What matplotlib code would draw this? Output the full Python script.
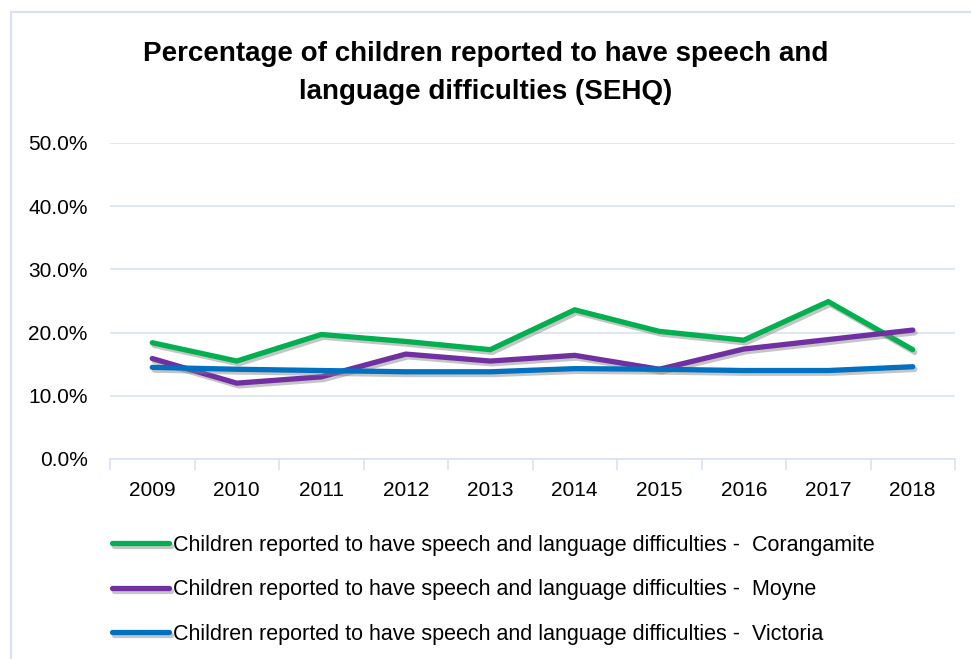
import matplotlib
matplotlib.use("Agg")
import matplotlib.pyplot as plt
import matplotlib.patheffects as pe
from matplotlib.patches import Rectangle
from matplotlib.ticker import FuncFormatter, FixedLocator

years = ["2009", "2010", "2011", "2012", "2013", "2014", "2015", "2016", "2017", "2018"]
corangamite = [18.4, 15.5, 19.7, 18.6, 17.3, 23.6, 20.2, 18.8, 24.9, 17.3]
moyne = [15.9, 12.0, 13.0, 16.6, 15.5, 16.4, 14.2, 17.4, 18.9, 20.4]
victoria = [14.5, 14.2, 14.0, 13.8, 13.8, 14.3, 14.2, 14.0, 14.0, 14.6]

labels = [
    "Children reported to have speech and language difficulties -  Corangamite",
    "Children reported to have speech and language difficulties -  Moyne",
    "Children reported to have speech and language difficulties -  Victoria",
]
colors = ["#00B050", "#7030A0", "#0070C0"]
grid_color = "#D9E1F2"

plt.rcParams["font.family"] = ["Liberation Sans", "DejaVu Sans"]

W, H = 971, 659
fig = plt.figure(figsize=(W / 100, H / 100), dpi=100)
ax = fig.add_axes([110 / W, 1 - 459 / H, 845 / W, 316 / H])

x = list(range(len(years)))
shadow = [pe.SimpleLineShadow(offset=(1.5, -2), shadow_color="gray", alpha=0.45), pe.Normal()]
lines = []
for vals, c, lab in zip([corangamite, moyne, victoria], colors, labels):
    ln, = ax.plot(x, vals, color=c, lw=3.8, solid_capstyle="round",
                  solid_joinstyle="miter", label=lab, path_effects=shadow)
    lines.append(ln)

ax.set_xlim(-0.5, len(years) - 0.5)
ax.set_ylim(0, 50)
ax.set_yticks([0, 10, 20, 30, 40, 50])
ax.yaxis.set_major_formatter(FuncFormatter(lambda v, p: f"{v:.1f}%"))
ax.set_xticks(x)
ax.set_xticklabels(years)
ax.xaxis.set_minor_locator(FixedLocator([i - 0.5 for i in range(len(years) + 1)]))
ax.tick_params(axis="x", which="major", length=0, pad=16, labelsize=15)
ax.tick_params(axis="x", which="minor", length=8, color=grid_color, width=1.2)
ax.tick_params(axis="y", length=0, pad=16, labelsize=15)

ax.grid(axis="y", color=grid_color, lw=1.2)
ax.set_axisbelow(True)
for s in ["top", "right", "left"]:
    ax.spines[s].set_visible(False)
ax.spines["bottom"].set_color(grid_color)
ax.spines["bottom"].set_linewidth(1.2)

fig.text(0.5, 1 - 73 / H, "Percentage of children reported to have speech and\nlanguage difficulties (SEHQ)",
         ha="center", va="center", fontsize=20, fontweight="bold", linespacing=1.6)

fig.legend(handles=lines, loc="upper left", bbox_to_anchor=(112 / W, 1 - 535 / H),
           frameon=False, fontsize=15.5, handlelength=2.65, labelspacing=1.09,
           handletextpad=0.2, borderpad=0, borderaxespad=0)

fig.patches.append(Rectangle((11 / W, -0.01), 1.0, 1 - 12 / H + 0.01, transform=fig.transFigure,
                             fill=False, edgecolor=grid_color, lw=1.5))

fig.savefig("out.png", dpi=100)
